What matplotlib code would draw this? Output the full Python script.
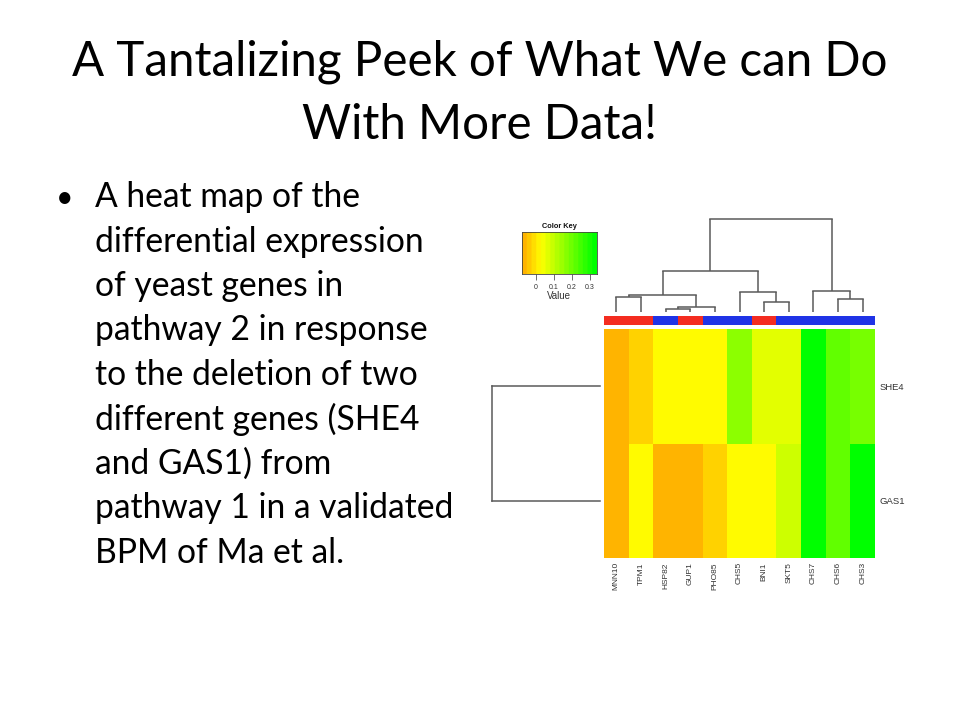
import matplotlib
matplotlib.use("Agg")
import matplotlib.pyplot as plt
import numpy as np
from matplotlib.colors import LinearSegmentedColormap, Normalize

# ---------------- data ----------------
genes = ["MNN10", "TPM1", "HSP82", "GUP1", "PHO85", "CHS5", "BNI1", "SKT5", "CHS7", "CHS6", "CHS3"]
rows = ["SHE4", "GAS1"]
she4_values = [-0.07, -0.03, 0.02, 0.02, 0.02, 0.165, 0.058, 0.058, 0.33, 0.215, 0.19]
gas1_values = [-0.07, 0.02, -0.07, -0.07, -0.04, 0.02, 0.02, 0.09, 0.33, 0.215, 0.33]
side_colors = ["#F42C20", "#F42C20", "#1F33E6", "#F42C20", "#1F33E6", "#1F33E6",
               "#F42C20", "#1F33E6", "#1F33E6", "#1F33E6", "#1F33E6"]
# column dendrogram merges (R hclust style: negative = leaf, positive = earlier merge)
col_merges = [(-3, -4, 8), (1, -5, 13), (-1, -2, 45), (3, 2, 50), (-7, -8, 30),
              (-6, 5, 58), (4, 6, 123), (-10, -11, 37), (-9, 8, 61), (7, 9, 277)]
row_merges = [(-1, -2, 1.0)]
key_ticks = [0, 0.1, 0.2, 0.3]
key_tick_labels = ["0", "0.1", "0.2", "0.3"]
vmin, vmax = -0.08, 0.34

title_lines = ["A Tantalizing Peek of What We can Do", "With More Data!"]
bullet_lines = ["A heat map of the", "differential expression", "of yeast genes in",
                "pathway 2 in response", "to the deletion of two", "different genes (SHE4",
                "and GAS1) from", "pathway 1 in a validated", "BPM of Ma et al."]

# ---------------- figure ----------------
W, H = 960, 720
fig = plt.figure(figsize=(9.6, 7.2), dpi=100)
fig.patch.set_facecolor("white")

def axes_px(x0, y0, x1, y1):
    return fig.add_axes([x0 / W, 1 - y1 / H, (x1 - x0) / W, (y1 - y0) / H])

nodes = [(0.0, "#FFB400"), ((0.02 - vmin) / (vmax - vmin), "#FFFF00"), (1.0, "#00FF00")]
cmap = LinearSegmentedColormap.from_list("oyg", nodes, N=32)
key_cmap = LinearSegmentedColormap.from_list("oyg16", nodes, N=16)
norm = Normalize(vmin=vmin, vmax=vmax)

# heatmap
hx0, hx1, hy0, hy1 = 604, 875, 329, 558
axh = axes_px(hx0, hy0, hx1, hy1)
data = np.array([she4_values, gas1_values])
axh.pcolormesh(np.arange(len(genes) + 1), np.arange(len(rows) + 1), data,
               cmap=cmap, norm=norm, shading="flat")
axh.set_xlim(0, len(genes))
axh.set_ylim(len(rows), 0)
axh.set_xticks(np.arange(len(genes)) + 0.5)
axh.set_xticklabels(genes, rotation=90, fontsize=6, color="#333333", family="Liberation Sans")
axh.set_yticks(np.arange(len(rows)) + 0.5)
axh.set_yticklabels(rows, fontsize=6.8, color="#333333", family="Liberation Sans")
axh.yaxis.tick_right()
axh.tick_params(length=0, pad=3)
for s in axh.spines.values():
    s.set_visible(False)

# side color bar
axs = axes_px(hx0, 316, hx1, 325)
for i, c in enumerate(side_colors):
    axs.bar(i + 0.5, 1, width=1.0, color=c, edgecolor="none")
axs.set_xlim(0, len(genes))
axs.set_ylim(0, 1)
axs.axis("off")

# column dendrogram
dcol = "#5a5a5a"
axd = axes_px(hx0, 219.3, hx1, 311.7)
pos = {}
hts = {}
for k, (a, b, h) in enumerate(col_merges, start=1):
    xs = []
    for c in (a, b):
        if c < 0:
            x, y0 = -c - 0.5, 0.0
        else:
            x, y0 = pos[c], hts[c]
        xs.append(x)
        axd.plot([x, x], [y0, h], color=dcol, lw=1.1, clip_on=False, solid_capstyle="butt")
    axd.plot(xs, [h, h], color=dcol, lw=1.1, clip_on=False, solid_capstyle="projecting")
    pos[k] = np.mean(xs)
    hts[k] = h
axd.set_xlim(0, len(genes))
axd.set_ylim(0, 277)
axd.axis("off")

# row dendrogram
axr = axes_px(492.3, hy0, 600, hy1)
for a, b, h in row_merges:
    ys = [-a - 0.5, -b - 0.5]
    for y in ys:
        axr.plot([0, h], [y, y], color=dcol, lw=1.1, clip_on=False)
    axr.plot([h, h], ys, color=dcol, lw=1.1, clip_on=False, solid_capstyle="projecting")
axr.set_xlim(1.0, 0)
axr.set_ylim(len(rows), 0)
axr.axis("off")

# color key
axk = axes_px(521.7, 232.3, 596.7, 274)
grad = np.linspace(vmin, vmax, 300).reshape(1, -1)
axk.imshow(grad, aspect="auto", cmap=key_cmap, norm=norm, extent=[vmin, vmax, 0, 1])
axk.set_xlim(vmin, vmax)
axk.set_yticks([])
axk.set_xticks(key_ticks)
axk.set_xticklabels(key_tick_labels, fontsize=5, color="#333333", family="Liberation Sans")
axk.tick_params(axis="x", length=4, width=0.6, color="#555555", pad=3)
for s in axk.spines.values():
    s.set_linewidth(0.6)
    s.set_color("#444444")
axk.set_xlabel("Value", fontsize=7, color="#333333", family="Liberation Sans", labelpad=0)
axk.set_title("Color Key", fontsize=5.3, fontweight="bold", color="#111111",
              family="Liberation Sans", pad=3)

# ---------------- slide text ----------------
renderer = fig.canvas.get_renderer()

def fit_text(x, y, s, target_w, ha, size0):
    t = fig.text(x / W, 1 - y / H, s, fontsize=size0, family="Lato", ha=ha, va="baseline", color="#000000")
    w = t.get_window_extent(renderer).width
    t.set_fontsize(size0 * target_w / w)
    return t.get_fontsize()

title_size = fit_text(480, 75, title_lines[0], 815, "center", 30)
fig.text(480 / W, 1 - 139 / H, title_lines[1], fontsize=title_size, family="Lato",
         ha="center", va="baseline", color="#000000")

body_size = fit_text(95, 207 + 44.5 * 7, bullet_lines[7], 360, "left", 20)
for i, line in enumerate(bullet_lines):
    if i == 7:
        continue
    fig.text(95 / W, 1 - (207 + 44.5 * i) / H, line, fontsize=body_size, family="Lato",
             ha="left", va="baseline", color="#000000")
fig.text(56 / W, 1 - 207 / H, "\u2022", fontsize=body_size * 0.9, family="Lato",
         ha="left", va="baseline", color="#000000")

fig.savefig("out.png", dpi=100, facecolor="white")
